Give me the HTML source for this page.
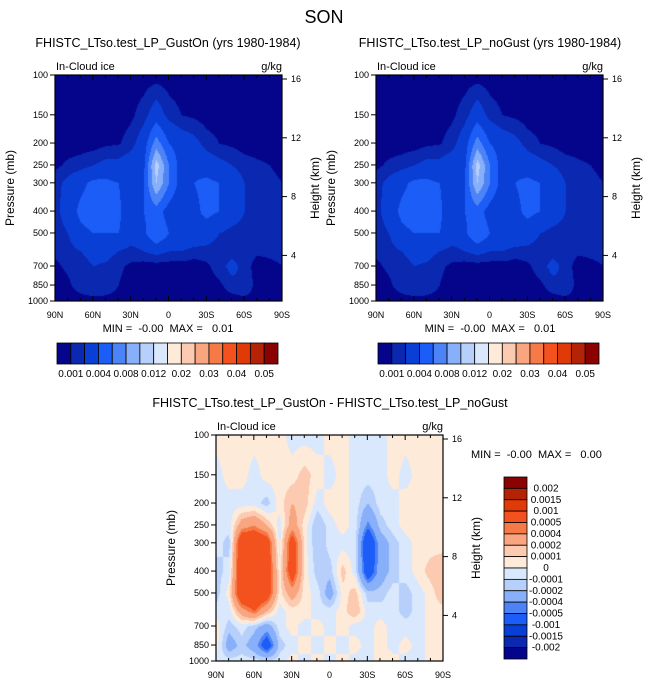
<!DOCTYPE html>
<html><head><meta charset="utf-8"><style>
body{margin:0;background:#fff;width:648px;height:686px;overflow:hidden;position:relative;font-family:"Liberation Sans",sans-serif}
canvas{position:absolute}
svg{position:absolute;left:0;top:0}
text{white-space:pre}
</style></head><body>
<canvas id="c1" width="227" height="226" style="left:55px;top:75px"></canvas>
<canvas id="c2" width="227" height="226" style="left:376px;top:75px"></canvas>
<canvas id="c3" width="227" height="226" style="left:216px;top:435px"></canvas>
<svg id="s" width="648" height="686"></svg>
<script>
const lats=['90N','80N','70N','60N','50N','40N','30N','20N','10N','0','10S','20S','30S','40S','50S','60S','70S','80S','90S'];
const pressures=[100,150,200,250,300,400,500,600,700,850,1000];
const topLevels=[0.001,0.002,0.004,0.006,0.008,0.01,0.012,0.015,0.02,0.025,0.03,0.035,0.04,0.045,0.05];
const topLabels=['0.001','0.004','0.008','0.012','0.02','0.03','0.04','0.05'];
const diffLevels=[-0.002,-0.0015,-0.001,-0.0005,-0.0004,-0.0002,-0.0001,0,0.0001,0.0002,0.0004,0.0005,0.001,0.0015,0.002];
const diffLabels=['0.002','0.0015','0.001','0.0005','0.0004','0.0002','0.0001','0','-0.0001','-0.0002','-0.0004','-0.0005','-0.001','-0.0015','-0.002'];
const heights=[4,8,12,16];
const colors=['#05058c','#0a28b0','#0a3fd6','#1c5cf7','#4c84f7','#88affa','#b7cffb','#d9e8fc','#feead9','#fbcab0','#f9a57f','#f67a47','#f3511e','#df3a08','#b42305','#8a0202'];
const gustOn=[
[.0005,.0005,.0005,.0005,.0005,.0005,.0005,.0005,.0005,.0005,.0005,.0005,.0005,.0005,.0005,.0005,.0005,.0005,.0005],
[.0005,.0005,.0005,.0005,.0005,.0005,.0008,.0015,.003,.0015,.001,.0008,.0005,.0005,.0005,.0005,.0005,.0005,.0005],
[.0005,.0005,.0005,.0005,.0008,.0009,.0015,.003,.007,.004,.003,.0025,.0015,.001,.0008,.0005,.0005,.0005,.0005],
[.0008,.0012,.0015,.002,.0025,.0025,.003,.0035,.011,.006,.003,.0035,.003,.0025,.002,.0015,.0012,.001,.0008],
[.0015,.0025,.0035,.0045,.0045,.004,.003,.004,.010,.006,.003,.004,.0045,.004,.003,.002,.0015,.0012,.001],
[.0015,.003,.0045,.005,.005,.0045,.002,.004,.005,.003,.002,.0035,.0045,.004,.003,.002,.0015,.0012,.0015],
[.0012,.002,.0035,.004,.004,.004,.003,.0035,.006,.004,.0035,.0035,.003,.002,.0015,.0015,.0012,.0012,.001],
[.0012,.0015,.002,.0025,.0025,.002,.0015,.002,.0025,.002,.002,.0015,.0015,.0012,.0015,.0015,.0012,.0012,.0012],
[.0008,.0012,.0015,.002,.0018,.0012,.0008,.0005,.0005,.0005,.0005,.0005,.0008,.0015,.0025,.0015,.0005,.0008,.001],
[.0005,.0008,.0015,.002,.0018,.001,.0005,.0005,.0005,.0005,.0005,.0005,.0005,.0008,.0015,.002,.0005,.0005,.0005],
[.0005,.0005,.0005,.0005,.0005,.0005,.0005,.0005,.0005,.0005,.0005,.0005,.0005,.0005,.0005,.0005,.0005,.0005,.0005]];
const noGust=gustOn.map(r=>r.slice());
const diffE4=[
[0.5,0.5,0.5,0.5,0.5,0.5,-0.5,-0.5,-0.5,0.5,0.5,-0.5,-0.5,-0.5,0.5,0.5,0.5,0.5,0.5],
[-0.5,0.5,0.5,-0.5,0.5,0.5,0.5,1.5,0.5,-0.5,0.5,-0.5,-0.5,-0.5,0.5,-0.5,0.5,0.5,0.5],
[-0.5,-0.5,-0.5,-0.5,-1.5,0.5,2,1.5,-0.5,0.5,0.5,-0.5,-2,-0.5,-0.5,0.5,0.5,0.5,0.5],
[-0.5,-0.5,3,4,2,-0.5,3,0.5,-2,-0.5,0.5,-0.5,-4.5,-1.5,-0.5,0.5,0.5,0.5,0.5],
[-0.5,-1.5,8,8,7,-0.5,7,0.5,-2,-0.5,-0.5,-0.5,-8,-3,-1.5,-0.5,0.5,0.5,0.5],
[-1.5,-0.5,8,8,7,0.5,7,0.5,-1.5,-1.5,1.5,-0.5,-7,-3,-1.5,-0.5,0.5,1.5,2],
[-1.5,0.5,8,8,7,0.5,3,0.5,-0.5,-3,0.5,1.5,-1.5,-1.5,-0.5,-1.5,-0.5,0.5,2],
[-0.5,-0.5,3,5,2,-0.5,0.5,0.5,-0.5,-0.5,0.5,2,-0.5,-0.5,-0.5,-1.5,-0.5,0.5,0.5],
[0.5,-1.5,-0.5,-1.5,-3,-0.5,0.5,-0.5,0.5,-0.5,0.5,-0.5,-0.5,0.5,-0.5,-0.5,-0.5,0.5,0.5],
[0.5,-3,-1.5,-3,-7,-1.5,-0.5,0.5,-0.5,0.5,-0.5,0.5,-0.5,0.5,-0.5,0.5,-0.5,0.5,0.5],
[-0.5,-0.5,-0.5,-0.5,-0.5,-0.5,0.5,-0.5,0.5,-0.5,0.5,-0.5,-0.5,0.5,0.5,-0.5,-0.5,0.5,0.5]];
const diff=diffE4.map(r=>r.map(v=>v*1e-4));

const W=227,H=226;
const yP=p=>Math.log(p/100)/Math.log(10)*H;
const xL=i=>i/(lats.length-1)*W;
const yH=h=>4+(16-h)*14.7;
function hex(c){return [parseInt(c.slice(1,3),16),parseInt(c.slice(3,5),16),parseInt(c.slice(5,7),16)];}
const rgb=colors.map(hex);
function fill(id,grid,levels){
  const ctx=document.getElementById(id).getContext('2d');
  const img=ctx.createImageData(W,H);
  const rowY=pressures.map(yP);
  for(let py=0;py<H;py++){
    let r=0;while(r<pressures.length-2&&rowY[r+1]<py)r++;
    const ty=Math.min(1,Math.max(0,(py-rowY[r])/(rowY[r+1]-rowY[r])));
    for(let px=0;px<W;px++){
      const fx=px/W*(lats.length-1);const c=Math.min(lats.length-2,Math.floor(fx));const tx=fx-c;
      const v=(grid[r][c]*(1-tx)+grid[r][c+1]*tx)*(1-ty)+(grid[r+1][c]*(1-tx)+grid[r+1][c+1]*tx)*ty;
      let k=0;while(k<levels.length&&v>=levels[k])k++;
      const o=(py*W+px)*4;img.data[o]=rgb[k][0];img.data[o+1]=rgb[k][1];img.data[o+2]=rgb[k][2];img.data[o+3]=255;
    }
  }
  ctx.putImageData(img,0,0);
}
fill('c1',gustOn,topLevels);fill('c2',noGust,topLevels);fill('c3',diff,diffLevels);

const S=document.getElementById('s');const NS='http://www.w3.org/2000/svg';
function el(t,a,txt){const e=document.createElementNS(NS,t);for(const k in a)e.setAttribute(k,a[k]);if(txt!==undefined)e.textContent=txt;S.appendChild(e);return e;}
function txt(x,y,s,size,anchor,name,rot){const a={x:x,y:y,'font-size':size,'text-anchor':anchor||'middle',fill:'#000'};if(rot)a.transform=`rotate(-90 ${x} ${y})`;const e=el('text',a,s);return e;}
txt(324,23,'SON',18,'middle','main-title');
function panel(x0,y0,title,tx){
  if(title)txt(tx,47,title,12.5,'middle','panel-title');
  txt(x0+1,y0-5,'In-Cloud ice',11,'start','variable-label');
  txt(x0+W,y0-5,'g/kg',11,'end','units-label');
  const f=el('rect',{x:x0,y:y0,width:W,height:H,fill:'none',stroke:'#000','stroke-width':1.2});
  
  for(let i=0;i<lats.length;i++){const x=x0+xL(i);const major=i%3===0;const L=major?5:3;
    el('line',{x1:x,y1:y0,x2:x,y2:y0+L,stroke:'#000'});el('line',{x1:x,y1:y0+H,x2:x,y2:y0+H-L,stroke:'#000'});
    if(major)txt(x,y0+H+17,lats[i],9,'middle','x-tick-label');}
  pressures.forEach((p,i)=>{if(p===600)return;const y=y0+yP(p);el('line',{x1:x0-5,y1:y,x2:x0,y2:y,stroke:'#000'});txt(x0-7,y+3,String(p),9,'end','y-tick-label');});
  heights.forEach(h=>{const y=y0+yH(h);el('line',{x1:x0+W,y1:y,x2:x0+W+5,y2:y,stroke:'#000'});txt(x0+W+9,y+3,String(h),9,'start','height-tick-label');});
  txt(x0-41,y0+H/2,'Pressure (mb)',12,'middle','y-axis-title',true);
  txt(x0+W+37,y0+H/2,'Height (km)',12,'middle','right-axis-title',true);
}
panel(55,75,'FHISTC_LTso.test_LP_GustOn (yrs 1980-1984)',168);
panel(376,75,'FHISTC_LTso.test_LP_noGust (yrs 1980-1984)',490);
panel(216,435,'',0);
txt(330,407,'FHISTC_LTso.test_LP_GustOn - FHISTC_LTso.test_LP_noGust',12.5,'middle','difference-title');
txt(168,332,'MIN =  -0.00  MAX =   0.01',11,'middle','min-max-label');
txt(490,332,'MIN =  -0.00  MAX =   0.01',11,'middle','min-max-label');
txt(471,458,'MIN =  -0.00  MAX =   0.00',11,'start','min-max-label');
function hbar(x0){const bw=221/16;
  colors.forEach((c,i)=>{const r=el('rect',{x:x0+i*bw,y:343,width:bw,height:21,fill:c,stroke:'#000','stroke-width':0.8});});
  topLabels.forEach((l,j)=>txt(x0+(2*j+1)*bw,377,l,10,'middle','colorbar-label'));}
hbar(57);hbar(378);
const vb=182/16;
colors.slice().reverse().forEach((c,i)=>{const r=el('rect',{x:504,y:477+i*vb,width:23,height:vb,fill:c,stroke:'#000','stroke-width':0.8});});
diffLabels.forEach((l,j)=>txt(546,477+(j+1)*vb+3,l,10,'middle','diff-colorbar-label'));
</script>
</body></html>
